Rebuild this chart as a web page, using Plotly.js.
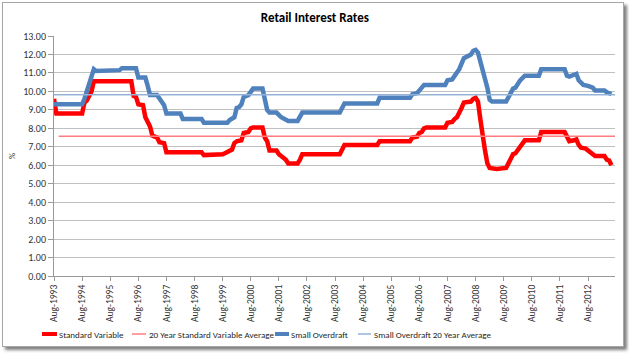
<!DOCTYPE html>
<html>
<head>
<meta charset="utf-8">
<script src="https://cdn.plot.ly/plotly-3.0.1.min.js"></script>
<style>
  html, body { margin: 0; padding: 0; background: #ffffff; }
  #frame {
    position: absolute; left: 2px; top: 2px;
    width: 620px; height: 343px;
    border: 1px solid #a6a6a6;
    box-shadow: 3px 3px 3px #7f7f7f;
    background: #ffffff;
  }
  #chart { width: 620px; height: 343px; }
</style>
</head>
<body>
<div id="frame"><div id="chart"></div></div>
<script>
// ---- Data (month index 0 = Aug-1993) ----
const tickLabels = ['Aug-1993','Aug-1994','Aug-1995','Aug-1996','Aug-1997','Aug-1998','Aug-1999',
  'Aug-2000','Aug-2001','Aug-2002','Aug-2003','Aug-2004','Aug-2005','Aug-2006','Aug-2007',
  'Aug-2008','Aug-2009','Aug-2010','Aug-2011','Aug-2012'];

const svMonths = [0,1,12,13,14,15,16,17,33,34,35,36,38,39,40,41,42,43,44,45,47,48,63,64,71,72,73,75,76,77,78,80,81,83,84,85,89,90,91,92,95,96,97,99,100,104,105,106,122,123,124,138,139,152,153,155,156,157,158,159,167,168,170,171,172,174,175,178,179,180,181,182,183,184,185,186,189,193,194,196,197,199,201,207,208,218,219,220,222,223,224,225,227,229,231,235,236,237,238];
const svRates  = [9.6,8.8,8.8,9.4,9.5,9.7,10.0,10.55,10.55,9.75,9.7,9.3,9.25,8.6,8.3,8.1,7.6,7.55,7.5,7.25,7.2,6.7,6.7,6.55,6.55,6.6,6.65,6.8,6.85,7.2,7.3,7.35,7.75,7.8,8.0,8.05,8.05,7.5,7.3,6.8,6.8,6.6,6.5,6.3,6.1,6.1,6.3,6.6,6.6,6.85,7.1,7.1,7.3,7.3,7.5,7.55,7.75,7.8,8.0,8.05,8.05,8.3,8.35,8.5,8.6,9.1,9.4,9.45,9.6,9.65,9.45,8.5,7.5,6.8,6.1,5.85,5.8,5.85,6.1,6.6,6.65,7.0,7.35,7.35,7.8,7.8,7.5,7.3,7.35,7.4,7.1,6.95,6.9,6.7,6.5,6.5,6.3,6.25,6.0];

const soMonths = [0,12,13,14,15,16,17,18,27,28,29,35,36,39,40,41,44,45,46,47,48,54,55,63,64,74,75,77,78,79,80,81,83,84,85,89,90,91,92,95,97,99,100,104,105,106,122,123,124,138,139,152,153,155,157,158,167,168,170,172,173,175,177,178,179,180,181,182,183,184,185,186,187,193,194,196,197,199,201,207,208,218,219,220,222,223,224,226,228,230,231,235,236,238];
const soRates  = [9.3,9.3,9.6,10.0,10.5,11.0,11.2,11.1,11.1,11.15,11.25,11.25,10.75,10.75,10.3,9.8,9.8,9.6,9.4,9.25,8.8,8.8,8.5,8.5,8.3,8.3,8.45,8.6,9.1,9.15,9.3,9.7,9.8,10.0,10.15,10.15,9.5,9.0,8.85,8.85,8.6,8.45,8.4,8.4,8.6,8.85,8.85,9.1,9.35,9.35,9.65,9.65,9.85,9.9,10.2,10.35,10.35,10.6,10.65,11.0,11.2,11.8,11.9,12.0,12.2,12.25,12.1,11.6,11.3,10.7,10.2,9.55,9.45,9.45,9.7,10.15,10.2,10.6,10.85,10.85,11.2,11.2,10.85,10.8,10.9,10.95,10.6,10.35,10.3,10.2,10.05,10.05,9.95,9.85];

const svAverage = 7.57;
const soAverage = 9.82;
const avgSvMonths = [2, 239.5];
const avgSoMonths = [0, 239.5];

const tickMonths = tickLabels.map((_, i) => i * 12);
const FONT = 'Calibri, Carlito, Lato, "Open Sans", sans-serif';

const traces = [
  { x: svMonths, y: svRates, type: 'scatter', mode: 'lines', name: 'Standard Variable',
    line: { color: '#ff0000', width: 4.5 } },
  { x: avgSvMonths, y: avgSvMonths.map(() => svAverage), type: 'scatter', mode: 'lines',
    name: '20 Year Standard Variable Average', line: { color: '#ff7c80', width: 1.5 } },
  { x: soMonths, y: soRates, type: 'scatter', mode: 'lines', name: 'Small Overdraft',
    line: { color: '#4f81bd', width: 4.5 } },
  { x: avgSoMonths, y: avgSoMonths.map(() => soAverage), type: 'scatter', mode: 'lines',
    name: 'Small Overdraft 20 Year Average', line: { color: '#95b3d7', width: 1.5 } }
];

// custom legend placed like the reference
const W = 561, H = 240, L = 51, T = 33;
const px = v => (v - L) / W;
const py = v => (T + H - v) / H;
const legY = 331;
const legendItems = [
  { name: traces[0].name, x0: 39, x1: 54, tx: 54, color: '#ff0000', w: 4 },
  { name: traces[1].name, x0: 129, x1: 143, tx: 144, color: '#ff7c80', w: 1.5 },
  { name: traces[2].name, x0: 272, x1: 286, tx: 286, color: '#4f81bd', w: 4 },
  { name: traces[3].name, x0: 355, x1: 368, tx: 369, color: '#95b3d7', w: 1.5 }
];
const shapes = legendItems.map(it => ({
  type: 'line', xref: 'paper', yref: 'paper',
  x0: px(it.x0), x1: px(it.x1), y0: py(legY), y1: py(legY),
  line: { color: it.color, width: it.w }
}));
const annotations = legendItems.map(it => ({
  xref: 'paper', yref: 'paper', x: px(it.tx), y: py(legY),
  xanchor: 'left', yanchor: 'middle', showarrow: false,
  text: it.name, font: { family: FONT, size: 9, color: '#262626' }
}));

const layout = {
  width: 620, height: 343,
  margin: { l: L, r: 620 - L - W, t: T, b: 343 - T - H, pad: 0 },
  paper_bgcolor: '#ffffff', plot_bgcolor: '#ffffff',
  showlegend: false,
  title: { text: '<b>Retail Interest Rates</b>', x: 0.503, xanchor: 'center',
           y: 1 - 14 / 343, yanchor: 'middle',
           font: { family: FONT, size: 13, color: '#000000' } },
  xaxis: {
    range: [0, 239.5], tickmode: 'array', tickvals: tickMonths, ticktext: tickLabels,
    tickangle: -90, ticks: 'outside', ticklen: 4, tickcolor: '#999999',
    showgrid: false, zeroline: false, showline: true, linecolor: '#999999', linewidth: 1,
    tickfont: { family: FONT, size: 9.5, color: '#333333' }, fixedrange: true
  },
  yaxis: {
    range: [0, 13], dtick: 1, tick0: 0, tickformat: '.2f',
    ticks: 'outside', ticklen: 5, tickcolor: '#999999',
    showgrid: true, gridcolor: '#c0c0c0', gridwidth: 1,
    zeroline: false, showline: true, linecolor: '#999999', linewidth: 1,
    tickfont: { family: FONT, size: 10, color: '#333333' },
    title: { text: '%', standoff: 6, font: { family: FONT, size: 9, color: '#333333' } },
    fixedrange: true
  },
  shapes: shapes,
  annotations: annotations
};

Plotly.newPlot('chart', traces, layout, { displayModeBar: false, staticPlot: true });
</script>
</body>
</html>
